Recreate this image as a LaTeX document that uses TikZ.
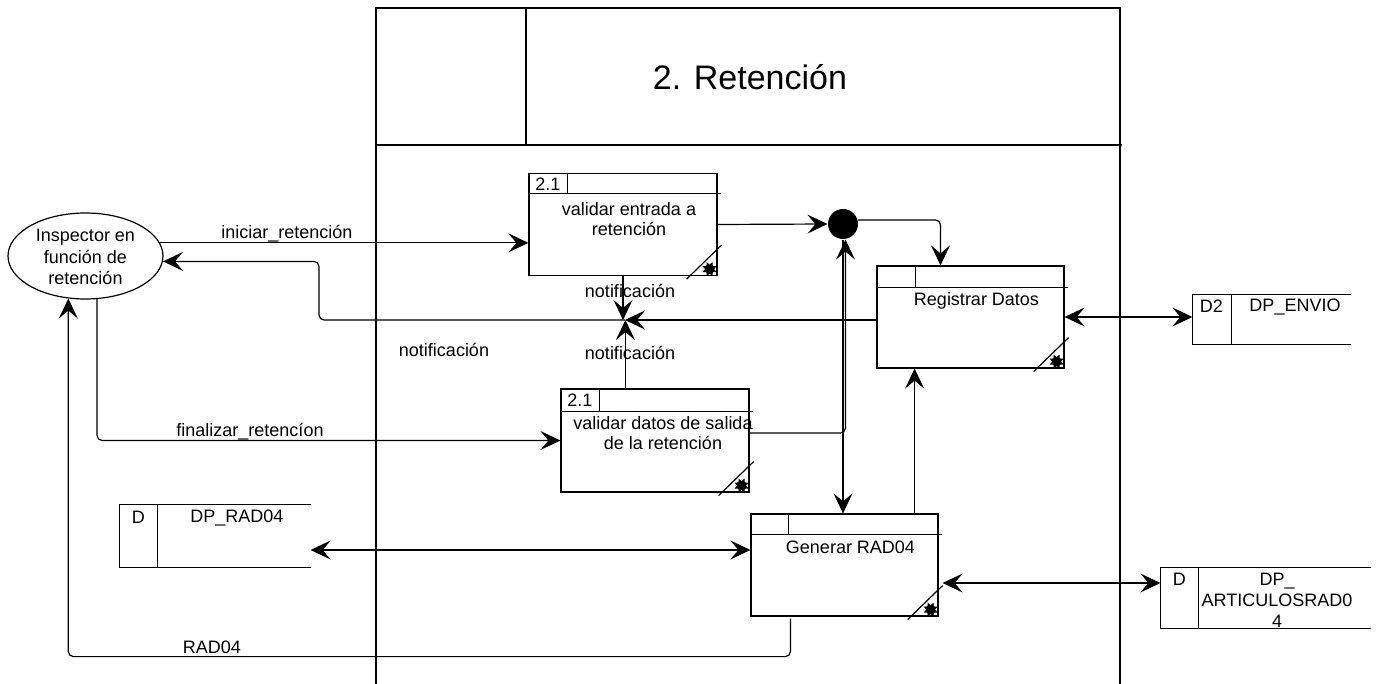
\documentclass[tikz,border=0pt]{standalone}
\usepackage{fontspec}
\setmainfont{Liberation Sans}
\usetikzlibrary{arrows.meta,shapes.geometric,calc}

% decorations of a process box: header rule, number cell, corner slash and marker
\newcommand{\procparts}[3]{%
  \draw ($(#1.north west)+(0,#2)$) -- ($(#1.north east)+(3,#2)$);
  \draw ($(#1.north west)+(#3,0)$) -- ($(#1.north west)+(#3,#2)$);
  \draw ($(#1.south east)+(-31,3)$) -- ($(#1.south east)+(4,-31)$);
  \node[marker] (#1-mk) at ($(#1.south east)+(-8,-7)$) {};
}
% open-ended data store outline with its key cell
\newcommand{\storeparts}[2]{%
  \draw (#1.north east) -- (#1.north west) -- (#1.south west) -- (#1.south east);
  \draw ($(#1.north west)+(#2,0)$) -- ($(#1.south west)+(#2,0)$);
}

\begin{document}
\begin{tikzpicture}[x=1pt,y=-1pt,
  line width=1.2pt,
  every node/.style={font=\fontsize{18}{21}\selectfont, inner sep=0pt},
  procbox/.style={draw, rectangle, minimum width=188pt, minimum height=102pt},
  storebox/.style={rectangle},
  marker/.style={star, star points=8, star point ratio=0.6, fill, draw=none, minimum size=9pt, inner sep=0pt},
  tip/.tip={Stealth[length=20pt,width=19pt,inset=8pt]},
  flow/.style={-tip, rounded corners=5pt},
  biflow/.style={tip-tip},
  multi/.style={align=center, font=\fontsize{18}{20}\selectfont}]

\useasboundingbox (0,0) rectangle (1390,684);
\fill[white] (0,0) rectangle (1390,684);

% frame of process 2
\draw (376,684) -- (376,8) -- (1120,8) -- (1120,684);
\draw (376,145) -- (1122,145);
\draw (526,8) -- (526,145);
\node (title) at (750,77) {\fontsize{34}{40}\selectfont 2. Retención};

% external entity
\node[ellipse, draw, minimum width=155pt, minimum height=86pt] (ins) at (85.5,256) {};
\node[multi, font=\fontsize{18}{21.5}\selectfont] (inst) at (85.5,257) {Inspector en\\función de\\retención};

% processes
\node[procbox] (p1) at (623,224.5) {};
\procparts{p1}{21}{39}
\node (p1n) at ($(p1.north west)+(19.5,11)$) {2.1};
\node[multi] (p1t) at ($(p1.north)+(6,46)$) {validar entrada a\\retención};

\node[procbox, minimum height=103pt] (p2) at (655,440.5) {};
\procparts{p2}{23}{39}
\node (p2n) at ($(p2.north west)+(19.5,12)$) {2.1};
\node[multi] (p2t) at ($(p2.north)+(8,45)$) {validar datos de salida\\de la retención};

\node[procbox, minimum width=187pt] (reg) at (970.5,317) {};
\procparts{reg}{22}{39}
\node (regt) at ($(reg.north)+(6,35)$) {Registrar Datos};

\node[procbox, minimum width=187pt] (gen) at (844.5,565) {};
\procparts{gen}{21}{38}
\node (gent) at ($(gen.north)+(6,34)$) {Generar RAD04};

% junction
\node[circle, fill, minimum size=30pt] (dot) at (843,224) {};

% data stores
\node[storebox, minimum width=157pt, minimum height=49pt] (senv) at (1271.5,319.5) {};
\storeparts{senv}{39}
\node (senvk) at ($(senv.north west)+(19,12)$) {D2};
\node (senvn) at (1295,307) {DP\_ENVIO};

\node[storebox, minimum width=190pt, minimum height=62pt] (srad) at (215,536) {};
\storeparts{srad}{38}
\node (sradk) at ($(srad.north west)+(19,13)$) {D};
\node (sradn) at (237,518) {DP\_RAD04};

\node[storebox, minimum width=209pt, minimum height=60pt] (sart) at (1265.5,598) {};
\storeparts{sart}{38}
\node (sartk) at ($(sart.north west)+(19,12)$) {D};
\node[multi, font=\fontsize{18}{21}\selectfont] (sartn) at (1277,600) {DP\_\\ARTICULOSRAD0\\4};

% flows
\coordinate (mg) at (625,320);
\draw[flow] (ins.10.8) -- (ins.10.8 -| p1.west);
\node (l1) at (287,234) {iniciar\_retención};

\draw[flow] (p1.east) -- (dot.west);
\draw[flow] (dot.15) -| ($(reg.north)+(-30,0)$);
\draw[biflow] (reg.east) -- (reg.east -| senv.west);

\draw[flow] (p1.south) -- (p1.south |- mg);
\coordinate (p2up) at ($(p2.north west)+(65,0)$);
\draw[flow] (p2up) -- (p2up |- mg);
\draw[flow] ($(reg.west)+(0,3)$) -- (mg);
\draw[flow] (mg) -| ($(ins.-4.5)+(156,0)$) -- (ins.-4.5);
\node (l2) at (630,291) {notificación};
\node (l3) at (630,353) {notificación};
\node (l4) at (444,350) {notificación};

\draw[flow] (ins.-75) |- (p2.west);
\node (l5) at (250,432) {finalizar\_retencíon};

\draw[flow] ($(p2.east)+(0,-7.5)$) -| ($(dot.south)+(2.5,0)$);
\draw[flow] (dot.south) -- (dot.south |- gen.north);
\coordinate (gu) at ($(gen.north east)+(-24,0)$);
\draw[flow] (gu) -- (gu |- reg.south);

\coordinate (gw) at ($(gen.west)+(0,-15)$);
\draw[biflow] (gw) -- (gw -| srad.east);
\coordinate (ge) at ($(gen.east)+(4,18)$);
\draw[biflow] (ge) -- (ge -| sart.west);

\coordinate (gb) at ($(gen.south west)+(40,2)$);
\draw[flow] (gb) -- ++(0,38) -| (ins.-112.7);
\node (l6) at (212,647) {RAD04};

\end{tikzpicture}
\end{document}
